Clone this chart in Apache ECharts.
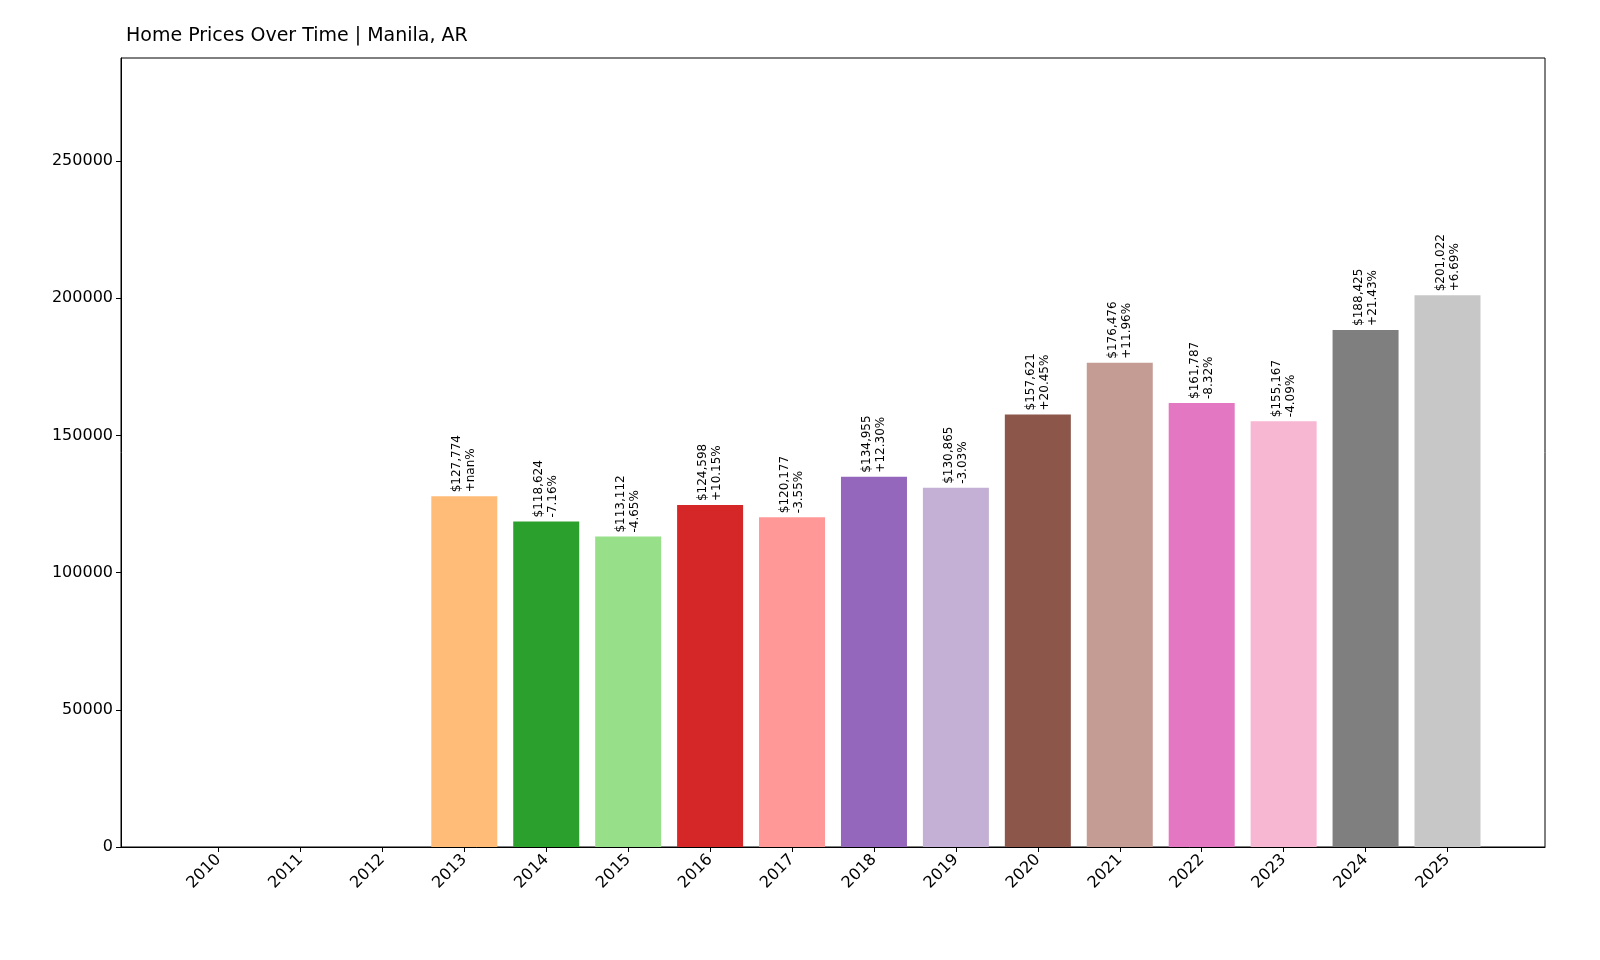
<!DOCTYPE html>
<html>
<head>
<meta charset="utf-8">
<script src="https://cdn.jsdelivr.net/npm/echarts@6/dist/echarts.min.js"></script>
<style>html,body{margin:0;padding:0;background:#fff}#c{width:1600px;height:960px}</style>
</head>
<body>
<div id="c"></div>
<script>
const years = ['2010','2011','2012','2013','2014','2015','2016','2017','2018','2019','2020','2021','2022','2023','2024','2025'];
const prices = [0, 0, 0, 127774, 118624, 113112, 124598, 120177, 134955, 130865, 157621, 176476, 161787, 155167, 188425, 201022];
const changes = ['', '', '', '+nan%', '-7.16%', '-4.65%', '+10.15%', '-3.55%', '+12.30%', '-3.03%', '+20.45%', '+11.96%', '-8.32%', '-4.09%', '+21.43%', '+6.69%'];
const colors = ['#1f77b4','#aec7e8','#ff7f0e','#ffbb78','#2ca02c','#98df8a','#d62728','#ff9896','#9467bd','#c5b0d5','#8c564b','#c49c94','#e377c2','#f7b6d2','#7f7f7f','#c7c7c7'];

const chart = echarts.init(document.getElementById('c'));
const font = 'DejaVu Sans';

chart.setOption({
    animation: false,
    textStyle: { fontFamily: font },
    title: {
        text: 'Home Prices Over Time | Manila, AR',
        left: 121, top: 22,
        textStyle: { fontSize: 19, fontWeight: 'normal', color: '#000', fontFamily: font }
    },
    grid: { left: 121, right: 55, top: 58, bottom: 113, show: true, borderColor: '#000', borderWidth: 1 },
    xAxis: {
        type: 'value',
        min: -1.19, max: 16.19,
        splitLine: { show: false },
        axisLine: { show: true, onZero: false, lineStyle: { color: '#000' } },
        axisTick: { show: true, customValues: years.map((y, i) => i), length: 5, lineStyle: { color: '#000' } },
        axisLabel: {
            customValues: years.map((y, i) => i),
            formatter: v => years[Math.round(v)],
            rotate: 45, fontSize: 16, color: '#000', margin: 10
        }
    },
    yAxis: {
        type: 'value',
        min: 0, max: 287500, interval: 50000,
        splitLine: { show: false },
        axisLine: { show: true, onZero: false, lineStyle: { color: '#000' } },
        axisTick: { show: true, length: 5, lineStyle: { color: '#000' } },
        axisLabel: { fontSize: 16, color: '#000', showMaxLabel: false, formatter: v => String(v) }
    },
    series: [{
        type: 'bar',
        barWidth: 66,
        data: prices.map((p, i) => ({
            value: [i, p],
            itemStyle: { color: colors[i] },
            label: {
                show: p > 0,
                position: 'top',
                rotate: 90,
                align: 'left',
                verticalAlign: 'middle',
                distance: 4,
                fontSize: 12,
                lineHeight: 14,
                color: '#000',
                formatter: '$' + p.toLocaleString('en-US') + '\n' + changes[i]
            }
        }))
    }]
});
</script>
</body>
</html>
